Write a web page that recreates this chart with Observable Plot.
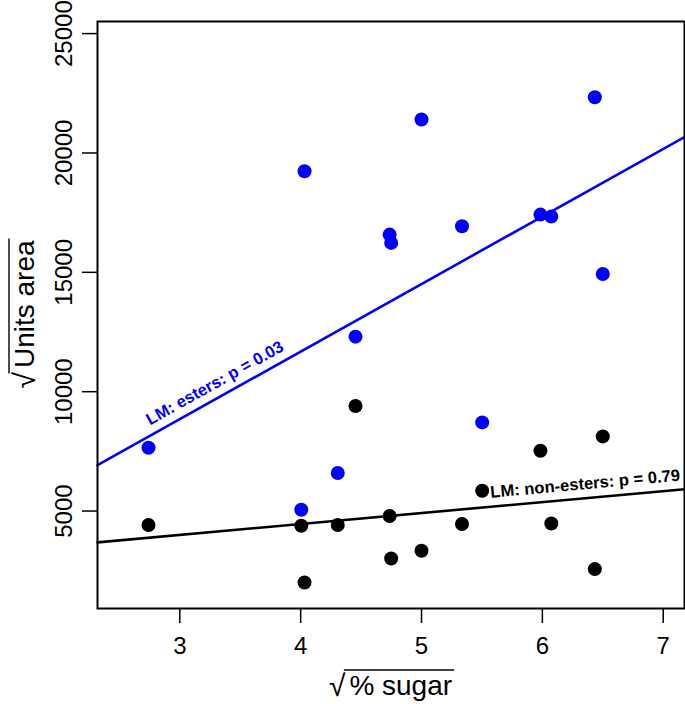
<!DOCTYPE html>
<html><head><meta charset="utf-8">
<script src="https://cdn.jsdelivr.net/npm/d3@7"></script>
<script src="https://cdn.jsdelivr.net/npm/@observablehq/plot@0.6"></script>
<style>html,body{margin:0;padding:0;background:#fff} svg{display:block}</style>
</head><body><div id="chart"></div>
<script>
// ---- data ----
const sugar     = [2.741, 4.005, 4.032, 4.307, 4.454, 4.736, 4.749, 5.000, 5.335, 5.502, 5.984, 6.074, 6.434, 6.500];
const esters    = [7653, 5054, 19233, 6593, 12305, 16580, 16232, 21400, 16928, 8713, 17418, 17334, 22334, 14933];
const nonEsters = [4414, 4384, 2008, 4413, 9401, 4790, 3013, 3336, 4455, 5851, 7527, 4480, 2569, 8127];
const groups = ["esters", "non-esters"];
const groupColors = ["#0000ff", "#000000"];
const pValues = ["0.03", "0.79"];
const labelX = [2.79, 5.58];
const xTicks = [3, 4, 5, 6, 7];
const yTicks = [5000, 10000, 15000, 20000, 25000];
const xDomain = [2.319, 7.176];
const yDomain = [918, 25507];
const xTitle = "% sugar";
const yTitle = "Units area";

const FONT = "'Liberation Sans', Arial, Helvetica, sans-serif";
const W = 685, H = 704;
const M = {top: 21, right: 1, bottom: 96, left: 97};

function fit(xs, ys) {
  const mx = d3.mean(xs), my = d3.mean(ys);
  const sxy = d3.sum(xs, (x, i) => (x - mx) * (ys[i] - my));
  const sxx = d3.sum(xs, x => (x - mx) ** 2);
  const b = sxy / sxx;
  return {a: my - b * mx, b};
}
const series = [esters, nonEsters];
const fits = series.map(ys => fit(sugar, ys));
const points = groups.flatMap((g, gi) => sugar.map((s, i) => ({x: s, y: series[gi][i], group: g})));
const lines = groups.flatMap((g, gi) => xDomain.map(x => ({x, y: fits[gi].a + fits[gi].b * x, group: g})));

const pxPerX = (W - M.left - M.right) / (xDomain[1] - xDomain[0]);
const pxPerY = (H - M.top - M.bottom) / (yDomain[1] - yDomain[0]);
const labelMarks = groups.map((g, gi) => {
  const th = Math.atan(fits[gi].b * pxPerY / pxPerX);
  const d = 9;
  return Plot.text([{x: labelX[gi], y: fits[gi].a + fits[gi].b * labelX[gi], t: `LM: ${g}: p = ${pValues[gi]}`}], {
    x: "x", y: "y", text: "t",
    rotate: -th * 180 / Math.PI,
    dx: -d * Math.sin(th), dy: -d * Math.cos(th),
    textAnchor: "start", lineAnchor: "bottom",
    fill: groupColors[gi], fontSize: 16.6, fontWeight: "bold"
  });
});

const chart = Plot.plot({
  width: W, height: H,
  marginTop: M.top, marginRight: M.right, marginBottom: M.bottom, marginLeft: M.left,
  style: {fontFamily: FONT, fontSize: "24px", background: "#fff", color: "#000", overflow: "visible"},
  x: {domain: xDomain, label: null},
  y: {domain: yDomain, label: null},
  color: {domain: groups, range: groupColors},
  marks: [
    Plot.line(lines, {x: "x", y: "y", z: "group", stroke: "group", strokeWidth: 2.6}),
    Plot.dot(points, {x: "x", y: "y", r: 7, fill: "group", stroke: "none"}),
    ...labelMarks,
    Plot.axisX({ticks: xTicks, tickSize: 15, tickPadding: 13, strokeWidth: 1.5, fontSize: 24, label: null, tickFormat: "d"}),
    Plot.axisY({ticks: yTicks, tickSize: 15, tickPadding: 11, tickRotate: -90, textAnchor: "middle", lineAnchor: "bottom", strokeWidth: 1.5, fontSize: 24, label: null, tickFormat: "d"}),
    Plot.frame({stroke: "#000", strokeWidth: 2})
  ]
});
document.getElementById("chart").appendChild(chart);

// axis titles with a square-root sign and overline
const svg = d3.select(chart);
function sqrtLabel(g, txt) {
  const fs = 28;
  g.attr("text-anchor", "start");
  const rad = g.append("text").attr("text-anchor", "start").attr("font-size", fs + 2).attr("font-family", FONT).attr("y", 1).text("\u221A");
  const body = g.append("text").attr("text-anchor", "start").attr("font-size", fs).attr("font-family", FONT).text(txt);
  const rw = rad.node().getComputedTextLength();
  const bw = body.node().getComputedTextLength();
  const gap = 4;
  const total = rw + gap + bw;
  const x0 = -total / 2;
  rad.attr("x", x0);
  body.attr("x", x0 + rw + gap);
  const rb = rad.node().getBBox();
  g.append("line")
    .attr("x1", x0 + rw - 1.5).attr("x2", x0 + total + 2)
    .attr("y1", rb.y + 1).attr("y2", rb.y + 1)
    .attr("stroke", "#000").attr("stroke-width", 1.4);
}
const cx = (M.left + W - M.right) / 2;
const cy = (M.top + H - M.bottom) / 2;
sqrtLabel(svg.append("g").attr("transform", `translate(${cx},695)`), xTitle);
sqrtLabel(svg.append("g").attr("transform", `translate(34,${cy}) rotate(-90)`), yTitle);
</script>
</body></html>
